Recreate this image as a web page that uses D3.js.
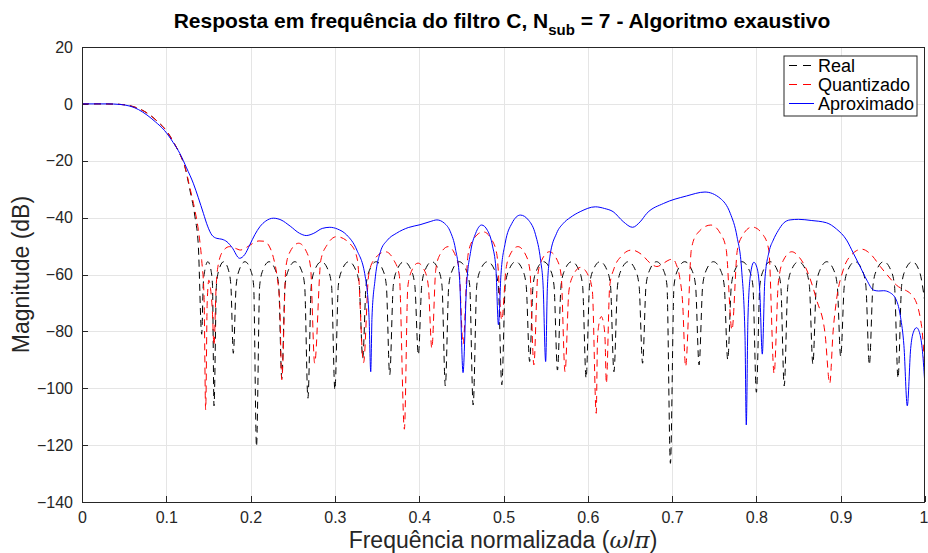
<!DOCTYPE html>
<html lang="pt">
<head>
<meta charset="UTF-8">
<title>Resposta em frequência do filtro C</title>
<style>
  body { margin: 0; background: #fff; }
  svg { font-family: "Liberation Sans", Arial, Helvetica, sans-serif; }
  .grid line { stroke: #e5e5e5; stroke-width: 1; shape-rendering: crispEdges; }
  .frame { fill: none; stroke: #262626; stroke-width: 1; shape-rendering: crispEdges; }
  .tick line { stroke: #262626; shape-rendering: crispEdges; }
  .curve { fill: none; stroke-width: 1; }
  .legend text { font-size: 18px; fill: #000; }
</style>
<script src="https://d3js.org/d3.v7.min.js"></script>
</head>
<body>
<script>
// tick values
const xTicks = [0, 0.1, 0.2, 0.3, 0.4, 0.5, 0.6, 0.7, 0.8, 0.9, 1];
const yTicks = [20, 0, -20, -40, -60, -80, -100, -120, -140];

// series: [normalized frequency, magnitude dB]
const realPts = [
  [0,0],[0.02,0],[0.04,-0.1],[0.05,-0.3],[0.06,-0.9],[0.07,-2],[0.08,-3.8],[0.09,-6.3],[0.1,-9.4],[0.11,-14.2],[0.116,-17.6],[0.122,-22.1],[0.128,-30.3],[0.134,-39.7],[0.138,-50],
  [0.142,-81],[0.1438,-63.8],[0.1457,-58.5],[0.1493,-55.5],[0.1530,-58.5],[0.1548,-63.8],
  [0.1566,-106.2],[0.1595,-63.8],[0.1623,-58.5],[0.1681,-55.5],[0.1738,-58.5],[0.1766,-63.8],
  [0.1795,-87.7],[0.1829,-63.8],[0.1864,-58.5],[0.1933,-55.5],[0.2001,-58.5],[0.2036,-63.8],
  [0.207,-120.5],[0.2108,-63.8],[0.2145,-58.5],[0.222,-55.5],[0.2295,-58.5],[0.2333,-63.8],
  [0.237,-96.5],[0.2409,-63.8],[0.2448,-58.5],[0.2525,-55.5],[0.2603,-58.5],[0.2641,-63.8],
  [0.268,-103.5],[0.272,-63.8],[0.276,-58.5],[0.284,-55.5],[0.292,-58.5],[0.296,-63.8],
  [0.300,-100.6],[0.3041,-63.8],[0.3083,-58.5],[0.3165,-55.5],[0.3248,-58.5],[0.3289,-63.8],
  [0.333,-89.4],[0.337,-63.8],[0.341,-58.5],[0.349,-55.5],[0.357,-58.5],[0.361,-63.8],
  [0.365,-95.3],[0.3693,-63.8],[0.3735,-58.5],[0.382,-55.5],[0.3905,-58.5],[0.3948,-63.8],
  [0.399,-88.3],[0.403,-63.8],[0.407,-58.5],[0.415,-55.5],[0.423,-58.5],[0.427,-63.8],
  [0.431,-99.2],[0.4351,-63.8],[0.4393,-58.5],[0.4475,-55.5],[0.4558,-58.5],[0.4599,-63.8],
  [0.464,-105.9],[0.4683,-63.8],[0.4725,-58.5],[0.481,-55.5],[0.4895,-58.5],[0.4938,-63.8],
  [0.498,-98.8],[0.5021,-63.8],[0.5063,-58.5],[0.5145,-55.5],[0.5228,-58.5],[0.5269,-63.8],
  [0.531,-90.6],[0.5351,-63.8],[0.5393,-58.5],[0.5475,-55.5],[0.5558,-58.5],[0.5599,-63.8],
  [0.564,-93.6],[0.5683,-63.8],[0.5725,-58.5],[0.581,-55.5],[0.5895,-58.5],[0.5938,-63.8],
  [0.598,-96.5],[0.6021,-63.8],[0.6063,-58.5],[0.6145,-55.5],[0.6228,-58.5],[0.6269,-63.8],
  [0.631,-94.2],[0.6353,-63.8],[0.6395,-58.5],[0.648,-55.5],[0.6565,-58.5],[0.6608,-63.8],
  [0.665,-91.2],[0.6691,-63.8],[0.6733,-58.5],[0.6815,-55.5],[0.6898,-58.5],[0.6939,-63.8],
  [0.698,-126.4],[0.7023,-63.8],[0.7065,-58.5],[0.715,-55.5],[0.7235,-58.5],[0.7278,-63.8],
  [0.732,-91.8],[0.7363,-63.8],[0.7405,-58.5],[0.749,-55.5],[0.7575,-58.5],[0.7618,-63.8],
  [0.766,-90],[0.7703,-63.8],[0.7745,-58.5],[0.783,-55.5],[0.7915,-58.5],[0.7958,-63.8],
  [0.800,-101.4],[0.8041,-63.8],[0.8083,-58.5],[0.8165,-55.5],[0.8248,-58.5],[0.8289,-63.8],
  [0.833,-99.2],[0.8373,-63.8],[0.8415,-58.5],[0.85,-55.5],[0.8585,-58.5],[0.8628,-63.8],
  [0.867,-91.5],[0.8711,-63.8],[0.8753,-58.5],[0.8835,-55.5],[0.8918,-58.5],[0.8959,-63.8],
  [0.900,-88.9],[0.9043,-63.8],[0.9085,-58.5],[0.917,-55.5],[0.9255,-58.5],[0.9298,-63.8],
  [0.934,-91.8],[0.9383,-63.8],[0.9425,-58.5],[0.951,-55.5],[0.9595,-58.5],[0.9638,-63.8],
  [0.968,-96.5],[0.9723,-63.8],[0.9765,-58.5],[0.985,-55.5],[0.9935,-59],[1.0,-70]
];

const quantPts = [
  [0,0],[0.02,0],[0.04,-0.1],[0.05,-0.3],[0.06,-0.9],[0.07,-2],[0.08,-3.8],[0.09,-6.3],[0.1,-9.4],[0.11,-14.2],[0.116,-17.6],[0.122,-22],[0.128,-29.5],[0.134,-37.5],[0.138,-44.3],[0.142,-55],[0.1448,-68],
  [0.1467,-107.6],[0.1485,-70],[0.1505,-62],[0.1525,-65],[0.1545,-72],
  [0.1566,-85],[0.159,-65],[0.162,-56],[0.168,-51.5],[0.175,-50.2],[0.182,-50.8],[0.188,-51.4],[0.195,-50.5],[0.203,-49],[0.210,-48.2],[0.216,-48.3],[0.222,-50],[0.227,-54],[0.2315,-61],[0.2345,-70],
  [0.237,-97],[0.2419,-57.3],[0.2468,-52],[0.257,-49],[0.2663,-52],[0.2711,-57.3],
  [0.276,-91.2],[0.2833,-55],[0.2905,-49.7],[0.302,-46.7],[0.3195,-49.7],[0.3268,-55],
  [0.334,-91],[0.340,-60.3],[0.346,-55],[0.360,-52],[0.370,-55],[0.3764,-60.3],
  [0.3824,-114.4],[0.3865,-64.3],[0.3906,-59],[0.3985,-56],[0.4069,-59],[0.4109,-64.3],
  [0.415,-86],[0.4196,-58.5],[0.4243,-53.2],[0.4345,-50.2],[0.4428,-53.2],[0.4474,-58.5],
  [0.452,-84.5],[0.4578,-53.3],[0.4635,-48],[0.476,-45],[0.4865,-48],[0.4923,-53.3],
  [0.498,-76],[0.5028,-58.5],[0.5075,-53.2],[0.517,-50.2],[0.5265,-53.2],[0.5313,-58.5],
  [0.536,-91.8],[0.5406,-60.3],[0.5453,-55],[0.5545,-52],[0.5638,-55],[0.5684,-60.3],
  [0.573,-94.2],[0.5776,-65.8],[0.5823,-60.5],[0.5915,-57.5],[0.6008,-60.5],[0.6054,-65.8],
  [0.610,-108.8],[0.6115,-83],[0.613,-77.8],[0.616,-74.8],[0.619,-77.8],[0.6205,-83],
  [0.622,-98.3],[0.626,-64],[0.631,-58],[0.640,-53.5],[0.652,-51.4],[0.664,-53],[0.674,-56],[0.682,-57.2],[0.690,-56],[0.697,-54.8],[0.701,-54.6],[0.705,-56.5],[0.709,-61],[0.7125,-70],
  [0.716,-92.4],[0.7229,-51],[0.7298,-45.6],[0.746,-42.6],[0.7573,-45.6],[0.7641,-51],
  [0.771,-79.5],[0.7773,-51.6],[0.7835,-46.3],[0.795,-43.3],[0.8085,-46.3],[0.8148,-51.6],
  [0.821,-94.8],[0.826,-63],[0.832,-55],[0.842,-52],[0.851,-54],[0.8597,-58.4],[0.8715,-69],[0.8814,-80.7],
  [0.887,-98.3],[0.891,-80],[0.895,-69],[0.903,-58.4],[0.913,-53],[0.925,-51.1],[0.936,-53],[0.947,-57.2],[0.966,-63.7],[0.986,-67.8],[0.996,-78.3],[1.0,-94.8]
];

const aproxPts = [
  [0,0],[0.03,0],[0.045,-0.2],[0.057,-0.8],[0.067,-2],[0.077,-3.9],[0.087,-6.3],[0.098,-9.4],[0.108,-13.5],[0.116,-17.4],[0.124,-22.5],[0.132,-27.9],[0.138,-33],[0.144,-38.5],[0.149,-43],[0.154,-46.1],
  [0.160,-47.3],[0.166,-47.6],[0.172,-48.5],[0.178,-50.5],[0.187,-54.3],[0.193,-53],[0.199,-49.6],[0.205,-46],[0.211,-43.2],[0.218,-41.2],[0.227,-40.2],[0.236,-40.8],[0.247,-43],[0.258,-45.5],[0.266,-46.3],
  [0.275,-45.5],[0.285,-43.8],[0.294,-43.4],[0.303,-44],[0.314,-46.1],[0.326,-51.4],[0.336,-60.8],[0.3405,-75],[0.3425,-94.2],[0.344,-75],[0.3476,-61.9],[0.354,-52],[0.362,-48],[0.373,-45.5],
  [0.387,-43.5],[0.401,-42.5],[0.413,-41.4],[0.421,-40.8],[0.430,-42],[0.437,-45],[0.443,-51],[0.448,-62],[0.452,-94.5],[0.456,-65],[0.461,-52],[0.467,-45.5],[0.474,-42.6],[0.481,-44.5],[0.487,-50],[0.491,-58],
  [0.494,-77.7],[0.497,-60],[0.502,-49],[0.510,-42],[0.520,-39.1],[0.530,-41],[0.538,-46],[0.544,-55],[0.547,-64],[0.550,-90.6],[0.552,-65],[0.555,-53.7],[0.563,-45.5],[0.571,-42],[0.579,-40],[0.591,-37.9],
  [0.609,-36.2],[0.620,-36.8],[0.630,-37.9],[0.642,-41.4],[0.653,-43.4],[0.662,-41.5],[0.670,-38.5],[0.690,-35],[0.717,-32.4],[0.739,-31],[0.757,-33.2],[0.769,-38.5],[0.777,-46.7],[0.7825,-58.4],[0.7865,-81.9],
  [0.788,-112.9],[0.790,-75],[0.793,-60],[0.797,-55.7],[0.801,-58],[0.804,-66],[0.807,-88],[0.810,-62],[0.815,-52],[0.820,-47.9],[0.826,-44.5],[0.832,-42],[0.840,-40.8],[0.850,-40.6],[0.865,-41],[0.883,-41.8],
  [0.895,-44],[0.907,-47.9],[0.915,-52.5],[0.923,-57.2],[0.931,-62],[0.939,-65.5],[0.945,-65.8],[0.951,-65.7],[0.958,-66.3],[0.966,-69],[0.971,-75],[0.975,-85],[0.979,-106.2],[0.983,-86],[0.986,-80.5],
  [0.990,-78.7],[0.994,-81],[0.997,-87],[1.0,-99.4]
];

const seriesNames = ["Real", "Quantizado", "Aproximado"];
const seriesColors = ["#000000", "#ff0000", "#0000ff"];
const seriesDash = ["7,5", "7,5", null];

const W = 928, H = 553;
const margin = { top: 47, right: 3, bottom: 51, left: 82 };

const svg = d3.select("body").append("svg")
  .attr("width", W).attr("height", H);

const x = d3.scaleLinear().domain([0, 1]).range([margin.left, W - margin.right]);
const y = d3.scaleLinear().domain([-140, 20]).range([H - margin.bottom, margin.top]);

// grid
const grid = svg.append("g").attr("class", "grid");
grid.selectAll(".gx").data(xTicks.slice(1, -1)).join("line")
  .attr("x1", d => Math.round(x(d)) + 0.5).attr("x2", d => Math.round(x(d)) + 0.5)
  .attr("y1", y(20)).attr("y2", y(-140));
grid.selectAll(".gy").data(yTicks.slice(1, -1)).join("line")
  .attr("y1", d => Math.round(y(d)) + 0.5).attr("y2", d => Math.round(y(d)) + 0.5)
  .attr("x1", x(0)).attr("x2", x(1));

// axes (ticks inside, matlab style)
const xAxis = d3.axisBottom(x).tickValues(xTicks).tickSizeInner(-6).tickSizeOuter(0)
  .tickPadding(10).tickFormat(d => d === 0 || d === 1 ? d3.format("d")(d) : d3.format(".1f")(d));
const yAxis = d3.axisLeft(y).tickValues(yTicks).tickSizeInner(-6).tickSizeOuter(0)
  .tickPadding(9).tickFormat(d3.format("d"));

const gx = svg.append("g").attr("transform", `translate(0,${y(-140)})`).call(xAxis)
  .call(g => g.select(".domain").remove());
svg.append("g").attr("transform", `translate(${x(0)},0)`).call(yAxis)
  .call(g => g.select(".domain").remove());
svg.selectAll(".tick text").attr("fill", "#262626").style("font-size", "16px");
svg.selectAll(".tick line").attr("stroke", "#262626");
// keep the "1" inside the page, as in the original
gx.selectAll(".tick text").filter(d => d === 1).attr("text-anchor", "end").attr("dx", 3);

// curves
svg.append("clipPath").attr("id", "plotclip").append("rect")
  .attr("x", x(0)).attr("y", y(20)).attr("width", x(1) - x(0)).attr("height", y(-140) - y(20));

const line = d3.line().x(d => x(d[0])).y(d => y(d[1])).curve(d3.curveMonotoneX);
const curves = svg.append("g").attr("clip-path", "url(#plotclip)");
[realPts, quantPts, aproxPts].forEach((pts, i) => {
  curves.append("path").attr("class", "curve")
    .attr("d", line(pts))
    .attr("stroke", seriesColors[i])
    .attr("stroke-dasharray", seriesDash[i]);
});

// frame
svg.append("rect").attr("class", "frame")
  .attr("x", x(0) + 0.5).attr("y", y(20) + 0.5)
  .attr("width", x(1) - x(0) - 1).attr("height", y(-140) - y(20));

// title
const title = svg.append("text").attr("x", 502).attr("y", 28).attr("text-anchor", "middle")
  .style("font-size", "21px").style("font-weight", "bold").attr("fill", "#000");
title.append("tspan").text("Resposta em frequência do filtro C, N");
title.append("tspan").attr("dy", 7).style("font-size", "15px").text("sub");
title.append("tspan").attr("dy", -7).text(" = 7 - Algoritmo exaustivo");

// axis labels
const xl = svg.append("text").attr("x", 503).attr("y", 548).attr("text-anchor", "middle")
  .style("font-size", "23px").attr("fill", "#262626");
xl.append("tspan").text("Frequência normalizada (");
xl.append("tspan").style("font-family", "'DejaVu Serif', serif").style("font-style", "italic").text("ω");
xl.append("tspan").text("/");
xl.append("tspan").style("font-family", "'DejaVu Serif', serif").style("font-style", "italic").text("π");
xl.append("tspan").text(")");

svg.append("text").attr("transform", `translate(29,${(y(20) + y(-140)) / 2}) rotate(-90)`)
  .attr("text-anchor", "middle").style("font-size", "23px").attr("fill", "#262626")
  .text("Magnitude (dB)");

// legend
const leg = svg.append("g").attr("class", "legend").attr("transform", "translate(784,56)");
leg.append("rect").attr("width", 133).attr("height", 60)
  .attr("fill", "#fff").attr("stroke", "#262626").attr("stroke-width", 1);
seriesNames.forEach((name, i) => {
  const cy = 9.5 + i * 19;
  leg.append("line").attr("x1", 5).attr("x2", 30).attr("y1", cy).attr("y2", cy)
    .attr("stroke", seriesColors[i]).attr("stroke-dasharray", seriesDash[i] ? "8,6" : null);
  leg.append("text").attr("x", 34).attr("y", cy).attr("dy", "0.35em").text(name);
});
</script>
</body>
</html>
